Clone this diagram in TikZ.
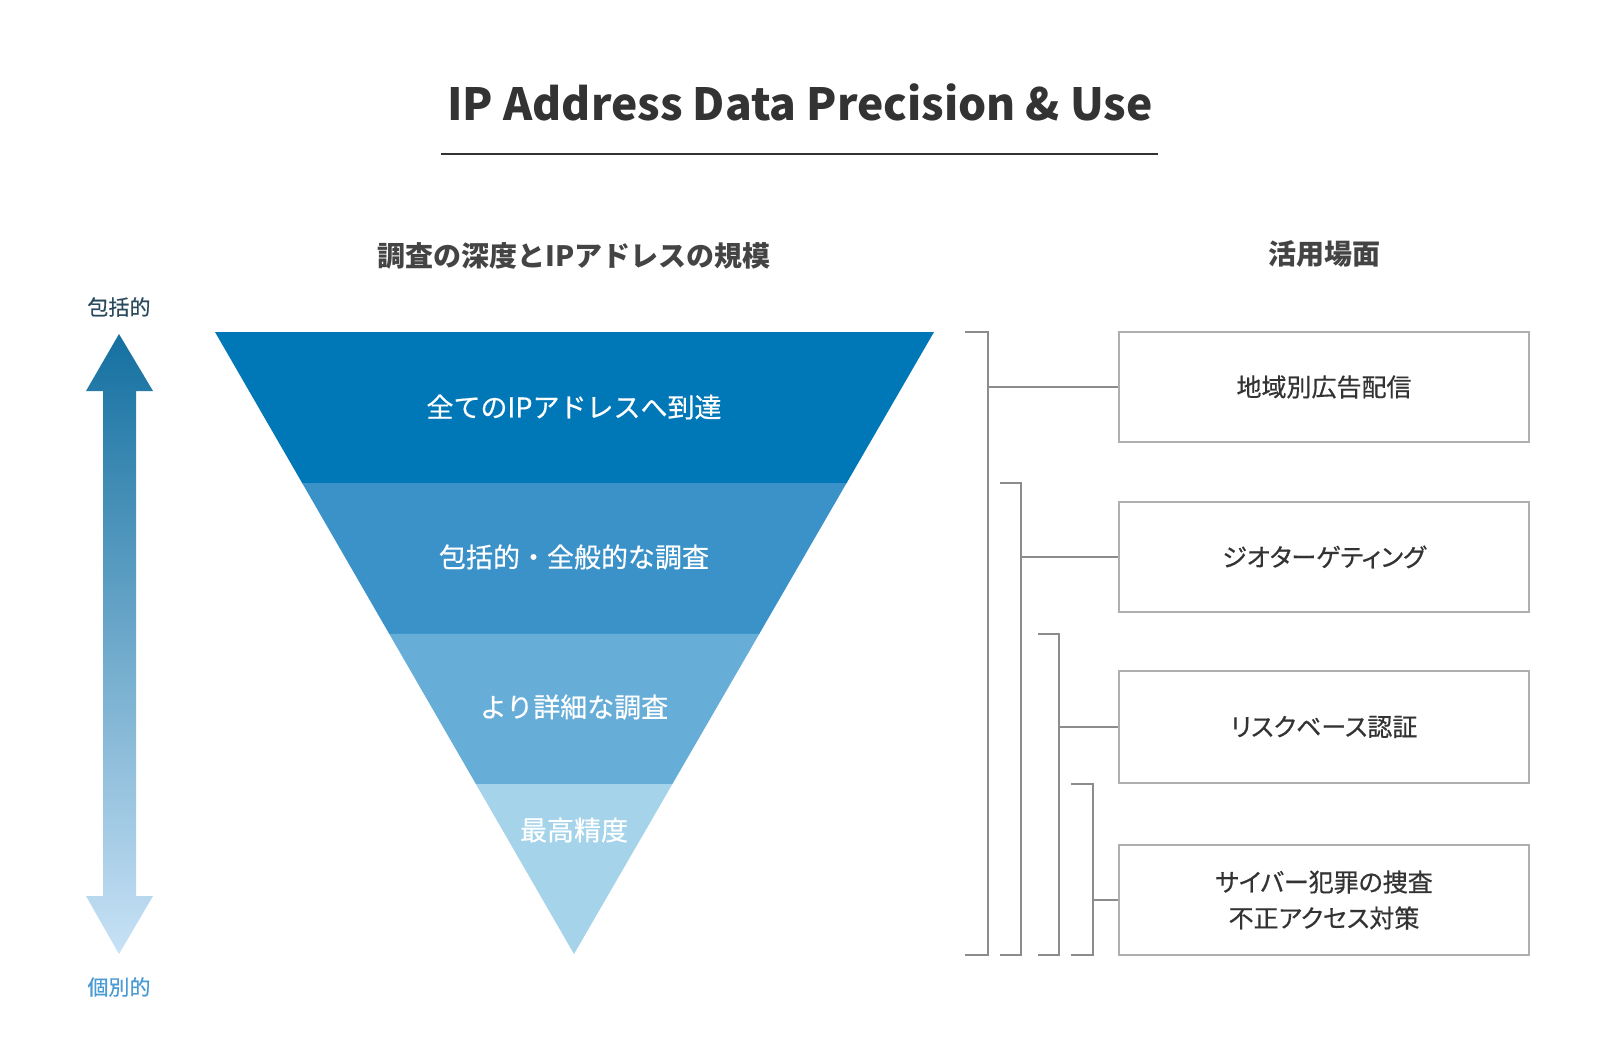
\documentclass[tikz,border=0pt]{standalone}
\usepackage{fontspec}
\setmainfont{Noto Sans CJK JP}
\newfontfamily\jpmed[FakeBold=0.5]{Noto Sans CJK JP}
\newfontfamily\jpbox[FakeBold=0.5,RawFeature=+palt]{Noto Sans CJK JP}
\usetikzlibrary{calc}
\definecolor{bandA}{RGB}{0,119,182}
\definecolor{bandB}{RGB}{59,146,201}
\definecolor{bandC}{RGB}{102,173,216}
\definecolor{bandD}{RGB}{164,211,234}
\definecolor{titlegray}{RGB}{51,51,51}
\definecolor{headgray}{RGB}{68,68,68}
\definecolor{boxline}{RGB}{175,175,175}
\definecolor{brline}{RGB}{140,140,140}
\definecolor{arrowtop}{RGB}{20,112,160}
\definecolor{arrowbot}{RGB}{200,226,246}
\definecolor{labtop}{RGB}{43,74,94}
\definecolor{labbot}{RGB}{74,154,212}
\tikzset{
  bandtext/.style={text=white, font=\jpmed\fontsize{27}{32}\selectfont, inner sep=0pt},
  usebox/.style={draw=boxline, line width=1.5pt, fill=white, minimum width=410pt, minimum height=110pt, inner sep=0pt, text=titlegray, font=\jpbox\fontsize{25}{36}\selectfont, align=center},
  header/.style={text=headgray, font=\fontsize{28}{34}\selectfont\bfseries, inner sep=0pt},
  bracket/.style={draw=brline, line width=1.3pt},
  conn/.style={draw=brline, line width=1.3pt},
  sidelabel/.style={font=\jpmed\fontsize{21}{25}\selectfont, inner sep=0pt}
}
\begin{document}
\begin{tikzpicture}[x=1pt,y=-1pt]
\useasboundingbox[fill=white] (0,0) rectangle (1600,1057);

% title
\node[text=titlegray, font=\fontsize{44.3}{52}\selectfont\bfseries, inner sep=0pt] (title) at (800,102) {IP Address Data Precision \& Use};
\coordinate (ulL) at (441,154);
\coordinate (ulR) at (1158,154);
\draw[titlegray, line width=2pt] (ulL) -- (ulR);

% headers
\node[header] (h1) at (574,256) {調査の深度とIPアドレスの規模};
\node[header] (h2) at (1324,254) {活用場面};

% funnel
\coordinate (TL) at (215,332);
\coordinate (TR) at (934,332);
\coordinate (AP) at (574,954);
\coordinate (L1) at ($(TL)!0.2428!(AP)$);
\coordinate (R1) at ($(TR)!0.2428!(AP)$);
\coordinate (L2) at ($(TL)!0.4855!(AP)$);
\coordinate (R2) at ($(TR)!0.4855!(AP)$);
\coordinate (L3) at ($(TL)!0.7267!(AP)$);
\coordinate (R3) at ($(TR)!0.7267!(AP)$);
\fill[bandA] (TL) -- (TR) -- (R1) -- (L1) -- cycle;
\fill[bandB] (L1) -- (R1) -- (R2) -- (L2) -- cycle;
\fill[bandC] (L2) -- (R2) -- (R3) -- (L3) -- cycle;
\fill[bandD] (L3) -- (R3) -- (AP) -- cycle;
\node[bandtext] (t1) at (574,407) {全てのIPアドレスへ到達};
\node[bandtext] (t2) at (574,557) {包括的・全般的な調査};
\node[bandtext] (t3) at (574,707) {より詳細な調査};
\node[bandtext] (t4) at (574,830) {最高精度};

% left double arrow
\shade[top color=arrowtop, bottom color=arrowbot]
  (119,334) -- (153,391) -- (136,391) -- (136,896) -- (153,896) -- (119,954)
  -- (86,896) -- (103,896) -- (103,391) -- (86,391) -- cycle;
\node[sidelabel, text=labtop] (lt) at (119,307) {包括的};
\node[sidelabel, text=labbot] (lb) at (119,987) {個別的};

% boxes
\node[usebox] (b1) at (1324,387) {地域別広告配信};
\node[usebox] (b2) at (1324,557) {ジオターゲティング};
\node[usebox, minimum height=112pt] (b3) at (1324,727) {リスクベース認証};
\node[usebox] (b4) at (1324,900) {サイバー犯罪の捜査\\不正アクセス対策};

% brackets
\draw[bracket] (965,332) -- (988,332) -- (988,955) -- (965,955);
\draw[bracket] (1000,483) -- (1021,483) -- (1021,955) -- (1000,955);
\draw[bracket] (1038,634) -- (1059,634) -- (1059,955) -- (1038,955);
\draw[bracket] (1071,784) -- (1093,784) -- (1093,955) -- (1071,955);
\coordinate (c1) at (988,387);
\coordinate (c2) at (1021,557);
\coordinate (c3) at (1059,727);
\coordinate (c4) at (1093,900);
\draw[conn] (c1) -- (b1.west);
\draw[conn] (c2) -- (b2.west);
\draw[conn] (c3) -- (b3.west);
\draw[conn] (c4) -- (b4.west);
\end{tikzpicture}
\end{document}
